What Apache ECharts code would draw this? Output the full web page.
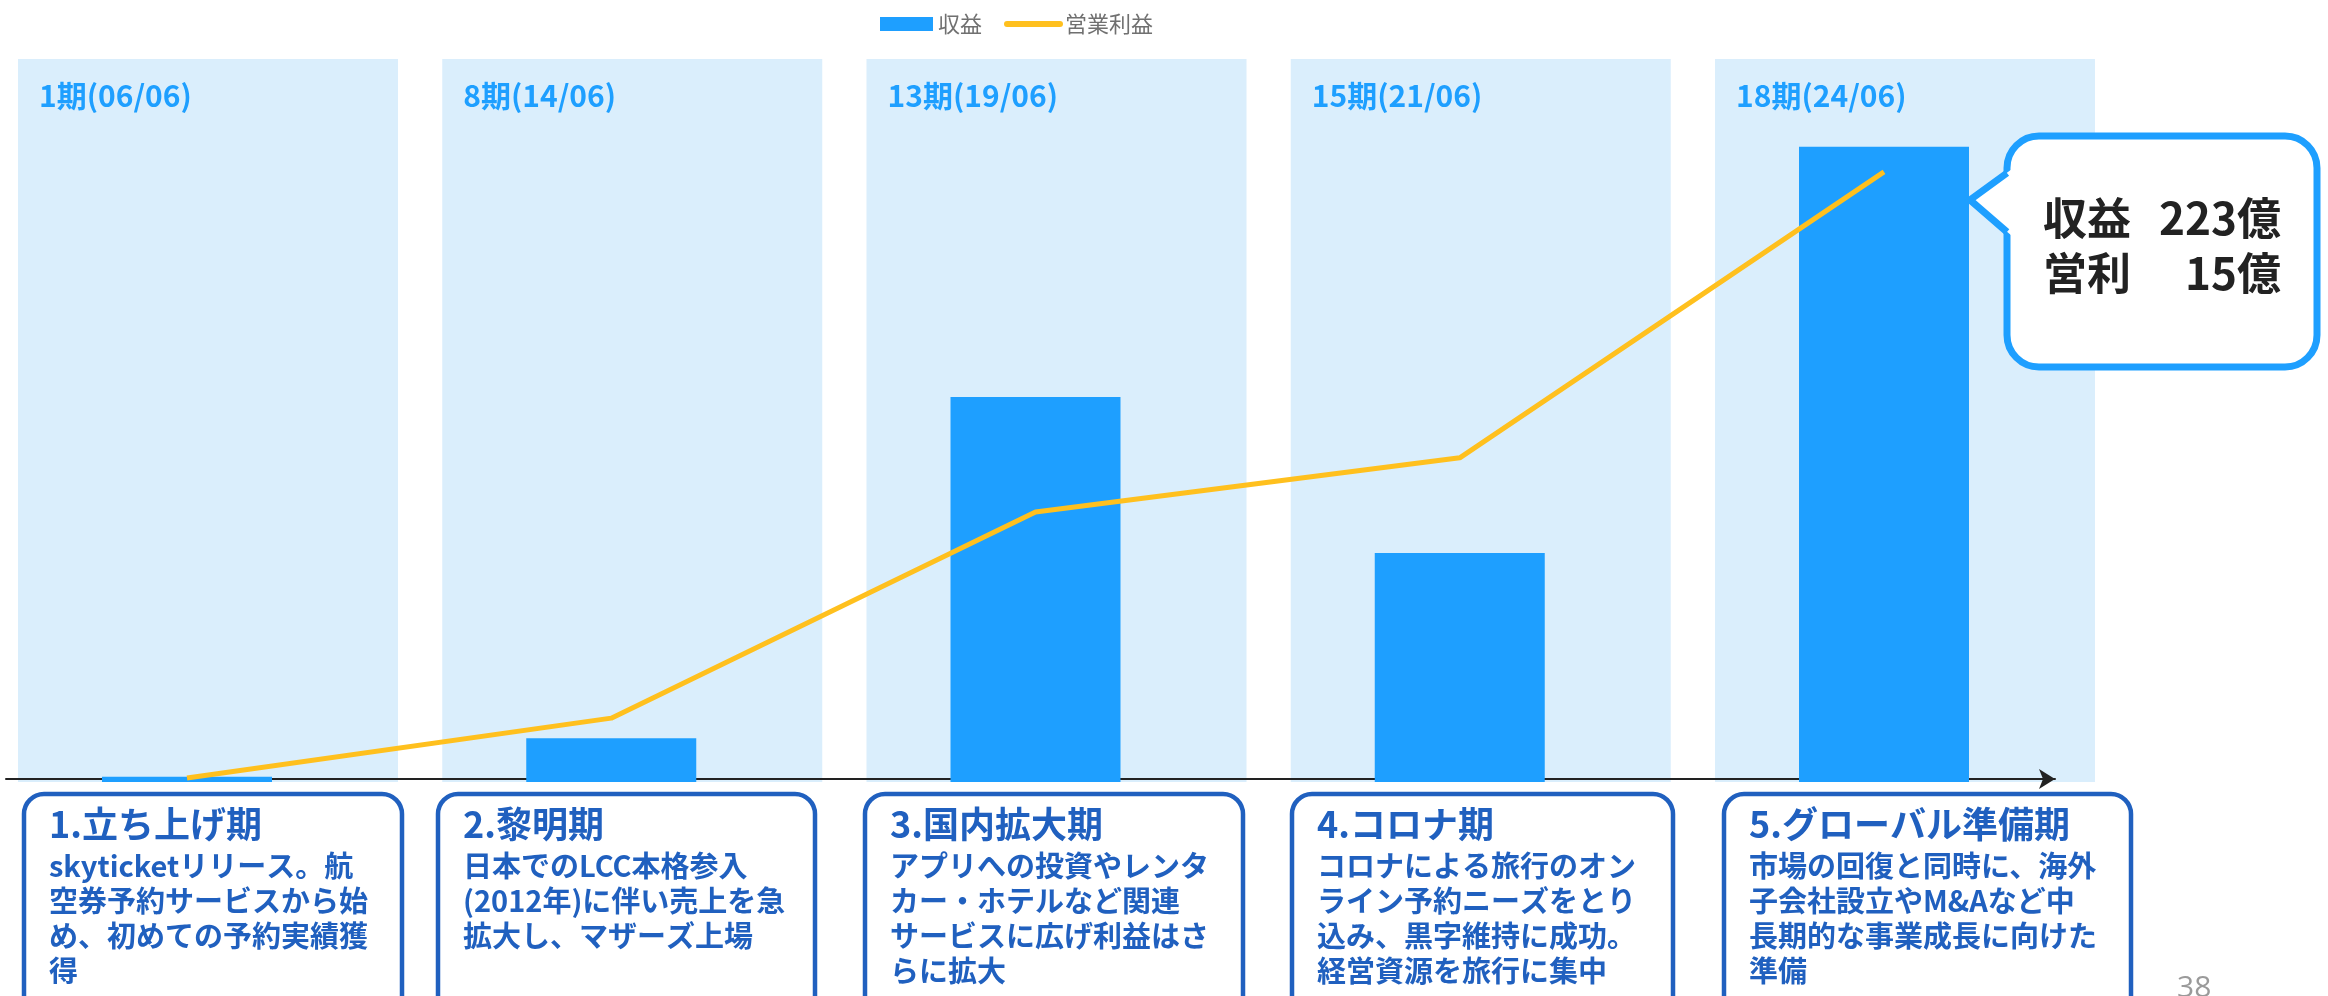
<!DOCTYPE html>
<html><head><meta charset="utf-8">
<script src="https://cdn.jsdelivr.net/npm/echarts@6/dist/echarts.min.js"></script>
<style>html,body{margin:0;padding:0;background:#fff}#c{width:2328px;height:996px}</style>
</head><body><div id="c"></div>
<script>
// ---- data ----
const categories = ['1期(06/06)', '8期(14/06)', '13期(19/06)', '15期(21/06)', '18期(24/06)'];
const seriesNames = ['収益', '営業利益'];
const revenue = [1.8, 15.4, 135.2, 80.4, 223];          // 億円
const operatingProfit = [0.1, 1.57, 6.64, 7.97, 15];    // 億円
const phaseTitles = ['1.立ち上げ期', '2.黎明期', '3.国内拡大期', '4.コロナ期', '5.グローバル準備期'];
const phaseLines = [
  ['skyticketリリース。航', '空券予約サービスから始', 'め、初めての予約実績獲', '得'],
  ['日本でのLCC本格参入', '(2012年)に伴い売上を急', '拡大し、マザーズ上場'],
  ['アプリへの投資やレンタ', 'カー・ホテルなど関連', 'サービスに広げ利益はさ', 'らに拡大'],
  ['コロナによる旅行のオン', 'ライン予約ニーズをとり', '込み、黒字維持に成功。', '経営資源を旅行に集中'],
  ['市場の回復と同時に、海外', '子会社設立やM&Aなど中', '長期的な事業成長に向けた', '準備']
];
const calloutLabels = ['収益', '営利'];
const unit = '億';
const pageNumber = '38';

// ---- layout ----
const FONT = '"Noto Sans CJK JP", "Noto Sans CJK SC", sans-serif';
const BLUE = '#1E9FFF', DARK = '#2060BF', GOLD = '#FFC01E', PANEL = '#DAEEFC';
const BOX_X = [24, 438, 865, 1292, 1724];
const BOX_W = [378, 377, 378, 381, 407];
const X_MIN = -0.42664, X_MAX = 4.40306;   // category index range of the plot (axis spans 6..2055 px)
const PANEL_SHIFT = 0.0495;                 // panels sit slightly right of the bars

const graphics = [];
phaseTitles.forEach((t, i) => {
  graphics.push({ type: 'rect', z: 10, shape: { x: BOX_X[i], y: 794, width: BOX_W[i], height: 230, r: 20 },
    style: { fill: '#fff', stroke: DARK, lineWidth: 4.5 } });
  graphics.push({ type: 'text', z: 11, style: { text: t, x: BOX_X[i] + 25, y: 824, fill: DARK,
    font: 'bold 36px ' + FONT, align: 'left', verticalAlign: 'middle' } });
  graphics.push({ type: 'text', z: 11, style: { text: phaseLines[i].join('\n'), x: BOX_X[i] + 25, y: 848.5, fill: DARK,
    font: 'bold 29px ' + FONT, lineHeight: 35, align: 'left', verticalAlign: 'top' } });
});
// callout bubble
graphics.push({ type: 'rect', z: 20, shape: { x: 2007, y: 136, width: 310, height: 231, r: 32 },
  style: { fill: '#fff', stroke: BLUE, lineWidth: 7 } });
graphics.push({ type: 'polygon', z: 21, shape: { points: [[2012, 236], [1970, 200], [2012, 169]] },
  style: { fill: '#fff' } });
graphics.push({ type: 'polyline', z: 22, shape: { points: [[2007, 232], [1970, 200], [2007, 173]] },
  style: { stroke: BLUE, lineWidth: 7, lineJoin: 'miter', fill: null } });
const calloutValues = [revenue[revenue.length - 1], operatingProfit[operatingProfit.length - 1]];
calloutLabels.forEach((lab, i) => {
  const y = 218 + i * 55;
  graphics.push({ type: 'text', z: 23, style: { text: lab, x: 2043, y: y, fill: '#222',
    font: 'bold 44px ' + FONT, align: 'left', verticalAlign: 'middle' } });
  graphics.push({ type: 'text', z: 23, style: { text: calloutValues[i] + unit, x: 2281, y: y, fill: '#222',
    font: 'bold 44px ' + FONT, align: 'right', verticalAlign: 'middle' } });
});
graphics.push({ type: 'text', z: 5, style: { text: pageNumber, x: 2177, y: 973, fill: '#9a9a9a',
  font: '30px "Open Sans", sans-serif', align: 'left', verticalAlign: 'top' } });

const chart = echarts.init(document.getElementById('c'));
chart.setOption({
  animation: false,
  backgroundColor: '#fff',
  legend: {
    data: [
      { name: seriesNames[0], icon: 'rect' },
      { name: seriesNames[1], itemStyle: { opacity: 0 }, lineStyle: { width: 6, cap: 'round', color: GOLD } }
    ],
    left: 875, top: 8, itemWidth: 53, itemHeight: 14, itemGap: 22,
    textStyle: { fontSize: 22, color: '#707070', fontFamily: FONT }
  },
  grid: [
    { left: 6, right: 273, top: 60, bottom: 214 },
    { left: 6, right: 273, top: 59, bottom: 214 },
    { left: 6, right: 273, top: 60, bottom: 217 }
  ],
  xAxis: [
    { type: 'value', gridIndex: 0, min: X_MIN, max: X_MAX, show: false },
    { type: 'value', gridIndex: 1, min: X_MIN - PANEL_SHIFT, max: X_MAX - PANEL_SHIFT, show: false },
    { type: 'value', gridIndex: 2, min: 0, max: 1, z: 1,
      axisLine: { show: true, onZero: false, symbol: ['none', 'arrow'], symbolSize: [15, 16],
        lineStyle: { color: '#222', width: 2 } },
      axisTick: { show: false }, axisLabel: { show: false }, splitLine: { show: false } }
  ],
  yAxis: [
    { type: 'value', gridIndex: 0, min: 0, max: 253.5, show: false },
    { type: 'value', gridIndex: 0, min: 0, max: 17.75, show: false, alignTicks: false },
    { type: 'value', gridIndex: 1, min: 0, max: 1, show: false },
    { type: 'value', gridIndex: 2, min: 0, max: 1, show: false }
  ],
  series: [
    { name: '期間', type: 'bar', xAxisIndex: 1, yAxisIndex: 2, z: 0, silent: true,
      data: categories.map((c, i) => [i, 1]), barWidth: 380, itemStyle: { color: PANEL },
      label: { show: true, position: [21, 22], formatter: p => categories[p.dataIndex],
        color: BLUE, fontSize: 30, fontWeight: 'bold', fontFamily: FONT } },
    { name: seriesNames[0], type: 'bar', xAxisIndex: 0, yAxisIndex: 0, z: 2,
      data: revenue.map((v, i) => [i, v]), barWidth: 170, itemStyle: { color: BLUE } },
    { name: seriesNames[1], type: 'line', xAxisIndex: 0, yAxisIndex: 1, z: 3,
      data: operatingProfit.map((v, i) => [i, v]), symbol: 'none', showSymbol: false,
      lineStyle: { color: GOLD, width: 5 }, itemStyle: { color: GOLD } }
  ],
  graphic: graphics
});
</script></body></html>
